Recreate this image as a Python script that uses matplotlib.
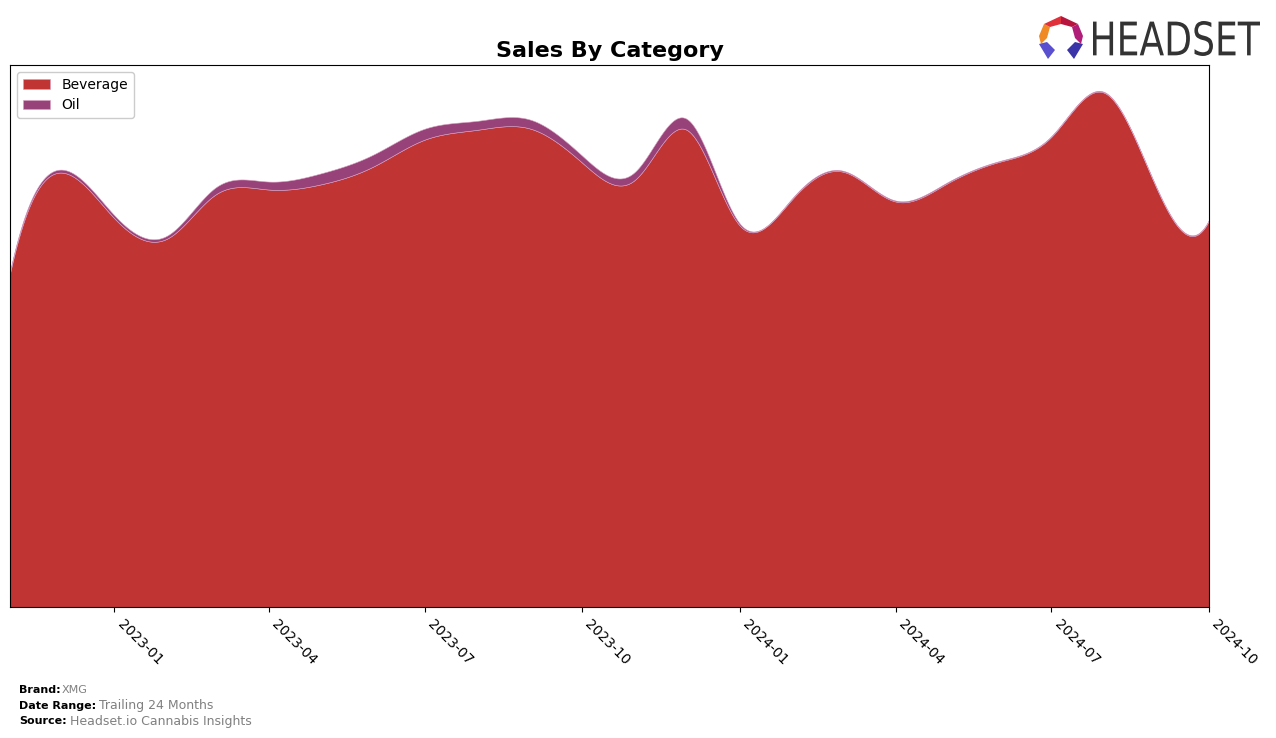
import numpy as np
import pandas as pd
import matplotlib
matplotlib.use("Agg")
import matplotlib.pyplot as plt
import matplotlib.dates as mdates
from matplotlib.patches import Polygon, PathPatch
from matplotlib.textpath import TextPath
from matplotlib.font_manager import FontProperties
from matplotlib.transforms import Affine2D

months = pd.date_range("2022-11-01", "2024-10-01", freq="MS")
beverage = [335, 436, 390, 370, 414, 419, 424, 442, 469, 479, 480, 446,
            429, 479, 383, 410, 437, 407, 425, 447, 472, 516, 418, 388]
oil = [2, 3, 3, 3, 7, 8, 11, 12, 11, 9, 9, 7,
       8, 11, 2, 1, 1, 1, 1, 0.8, 0.8, 0.8, 0.8, 0.8]
categories = ["Beverage", "Oil"]
colors = ["#C03434", "#98427A"]
tick_labels = ["2023-01", "2023-04", "2023-07", "2023-10", "2024-01", "2024-04", "2024-07", "2024-10"]


def notaknot_spline(x, y, xs):
    x = np.asarray(x, float); y = np.asarray(y, float)
    n = len(x)
    h = np.diff(x)
    A = np.zeros((n, n)); r = np.zeros(n)
    A[0, 0] = h[1]; A[0, 1] = -(h[0] + h[1]); A[0, 2] = h[0]
    A[-1, -3] = h[-1]; A[-1, -2] = -(h[-2] + h[-1]); A[-1, -1] = h[-2]
    for i in range(1, n - 1):
        A[i, i - 1] = h[i - 1]
        A[i, i] = 2 * (h[i - 1] + h[i])
        A[i, i + 1] = h[i]
        r[i] = 6 * ((y[i + 1] - y[i]) / h[i] - (y[i] - y[i - 1]) / h[i - 1])
    M = np.linalg.solve(A, r)
    idx = np.clip(np.searchsorted(x, xs) - 1, 0, n - 2)
    hi = h[idx]
    a = x[idx + 1] - xs
    b = xs - x[idx]
    return (M[idx] * a ** 3 / (6 * hi) + M[idx + 1] * b ** 3 / (6 * hi)
            + (y[idx] / hi - M[idx] * hi / 6) * a + (y[idx + 1] / hi - M[idx + 1] * hi / 6) * b)


xn = mdates.date2num(months)
xs = np.linspace(xn[0], xn[-1], 1500)
bev_s = notaknot_spline(xn, beverage, xs)
oil_s = np.clip(notaknot_spline(xn, oil, xs), 0, None)

fig = plt.figure(figsize=(12.76, 7.38), dpi=100)
ax = fig.add_axes([10 / 1276, 1 - 607 / 738, 1199 / 1276, 542 / 738])
ax.stackplot(xs, bev_s, oil_s, labels=categories, colors=colors,
             edgecolor="#d8a0c0", linewidth=0.4)
top = (bev_s + oil_s).max()
ax.set_ylim(0, top * 1.05)
ax.set_xlim(xn[0], xn[-1])
ax.set_yticks([])
ticks = mdates.date2num(pd.to_datetime([t + "-01" for t in tick_labels]))
ax.set_xticks(ticks)
ax.set_xticklabels(tick_labels, rotation=-45, ha="left", fontsize=10)
ax.set_title("Sales By Category", fontsize=16, fontweight="bold", pad=6)
ax.legend(loc="upper left", fontsize=10, framealpha=1, edgecolor="#cccccc")

# footer
fig.text(19 / 1276, 1 - 690 / 738, "Brand:", fontsize=8, fontweight="bold", va="center")
fig.text(62 / 1276, 1 - 690 / 738, "XMG", fontsize=8, color="gray", va="center")
fig.text(19 / 1276, 1 - 706 / 738, "Date Range:", fontsize=8, fontweight="bold", va="center")
fig.text(99 / 1276, 1 - 706 / 738, "Trailing 24 Months", fontsize=9, color="gray", va="center")
fig.text(19 / 1276, 1 - 721 / 738, "Source:", fontsize=8, fontweight="bold", va="center")
fig.text(70 / 1276, 1 - 721 / 738, "Headset.io Cannabis Insights", fontsize=9, color="gray", va="center")

# logo (pixel-coordinate overlay axes)
lax = fig.add_axes([1030 / 1276, 1 - 66 / 738, 240 / 1276, 56 / 738])
lax.set_xlim(1030, 1270); lax.set_ylim(66, 10); lax.axis("off")
tp = TextPath((0, 0), "HEADSET", size=100, prop=FontProperties(family="DejaVu Sans"))
bb = tp.get_extents()
sx = (1260 - 1093) / bb.width
sy = (56 - 21) / bb.height
tr = Affine2D().translate(-bb.x0, -bb.y0).scale(sx, -sy).translate(1093, 56)
lax.add_patch(PathPatch(tr.transform_path(tp), color="#333333", lw=0))
polys = [
    ([(1039, 36), (1044, 24), (1050, 27), (1047, 38), (1041, 44)], "#F08A24"),
    ([(1044, 24), (1061, 16), (1061, 24), (1050, 27)], "#E0303A"),
    ([(1061, 16), (1078, 24), (1072, 27), (1061, 24)], "#B8153E"),
    ([(1078, 24), (1083, 36), (1081, 44), (1075, 38), (1072, 27)], "#B01E7A"),
    ([(1039, 44), (1047, 42), (1055, 50), (1048, 59)], "#5A4FCF"),
    ([(1067, 50), (1075, 42), (1083, 44), (1074, 59)], "#3B34A8"),
]
for pts, c in polys:
    lax.add_patch(Polygon(pts, closed=True, color=c, lw=0))

fig.savefig("out.png", dpi=100)
